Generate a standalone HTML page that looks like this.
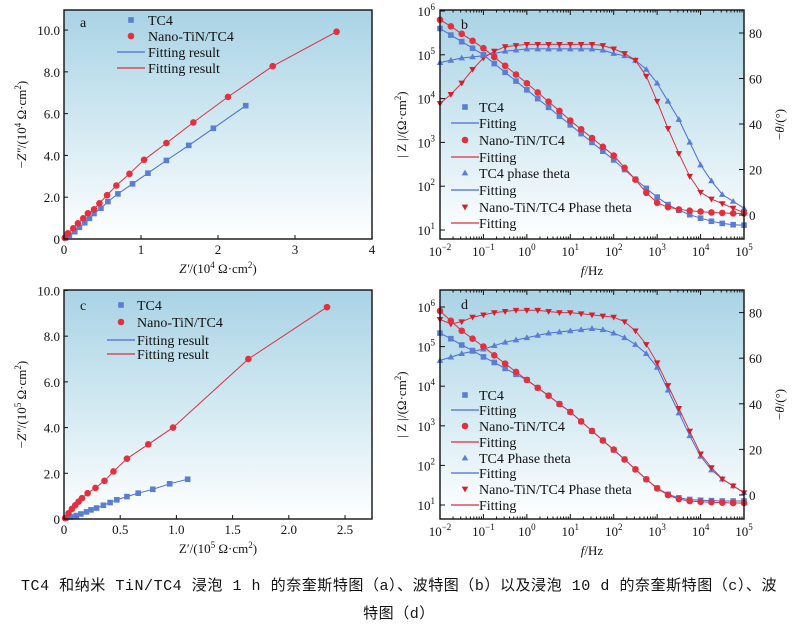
<!DOCTYPE html>
<html><head><meta charset="utf-8"><style>
body{margin:0;background:#fff;width:798px;height:631px;overflow:hidden}
svg{display:block;font-family:"Liberation Serif",serif}
.cap{position:absolute;left:0;width:798px;text-align:center;font:15px "Liberation Mono","Noto Sans CJK SC",monospace;letter-spacing:0.55px;color:#111}
</style></head><body>
<svg id="s" width="798" height="631">
<defs>
<linearGradient id="bg" x1="0" y1="0" x2="0" y2="1"><stop offset="0" stop-color="#a9d3e5"/><stop offset="0.55" stop-color="#d6ebf3"/><stop offset="1" stop-color="#ffffff"/></linearGradient>
</defs>
</svg>
<div class="cap" style="top:574px">TC4 和纳米 TiN/TC4 浸泡 1 h 的奈奎斯特图（a）、波特图（b）以及浸泡 10 d 的奈奎斯特图（c）、波</div>
<div class="cap" style="top:602px">特图（d）</div>
<script>
// ---- Panel a data (units 1e4 ohm cm2)
const aTC4x=[0.02,0.07,0.14,0.2,0.27,0.33,0.39,0.48,0.57,0.7,0.89,1.09,1.33,1.62,1.94,2.36];
const aTC4y=[0.05,0.18,0.35,0.56,0.78,0.99,1.22,1.47,1.79,2.16,2.64,3.15,3.76,4.48,5.3,6.38];
const aNanox=[0.01,0.05,0.12,0.18,0.25,0.31,0.39,0.46,0.56,0.68,0.85,1.04,1.33,1.68,2.13,2.71,3.54];
const aNanoy=[0.06,0.27,0.51,0.75,0.99,1.23,1.42,1.71,2.1,2.56,3.12,3.79,4.59,5.58,6.8,8.27,9.92];
// ---- Panel c data (units 1e5 ohm cm2)
const cTC4x=[0.015,0.06,0.11,0.15,0.2,0.24,0.29,0.35,0.41,0.47,0.56,0.66,0.79,0.94,1.10];
const cTC4y=[0.03,0.09,0.15,0.22,0.31,0.4,0.48,0.6,0.72,0.84,0.98,1.13,1.3,1.54,1.74];
const cNanox=[0.01,0.04,0.07,0.1,0.13,0.16,0.21,0.28,0.36,0.44,0.56,0.75,0.97,1.64,2.34];
const cNanoy=[0.04,0.25,0.44,0.6,0.76,0.91,1.13,1.36,1.67,2.08,2.64,3.27,4.0,7.0,9.27];
// ---- Bode frequency (log10 Hz)
const logF=[-2,-1.75,-1.5,-1.25,-1,-0.75,-0.5,-0.25,0,0.25,0.5,0.75,1,1.25,1.5,1.75,2,2.25,2.5,2.75,3,3.25,3.5,3.75,4,4.25,4.5,4.75,5];
const bTC4Z=[5.6,5.45,5.3,5.15,5.0,4.8,4.6,4.4,4.2,4.0,3.8,3.6,3.4,3.2,3.0,2.8,2.6,2.38,2.16,1.95,1.75,1.58,1.45,1.35,1.27,1.2,1.15,1.12,1.11];
const bNanoZ=[5.8,5.65,5.48,5.32,5.15,4.95,4.75,4.55,4.35,4.14,3.93,3.72,3.5,3.3,3.1,2.9,2.7,2.42,2.15,1.85,1.62,1.52,1.47,1.44,1.42,1.4,1.39,1.38,1.38];
const bTC4T=[67,68,69,69.5,70,71,72,72.5,73,73,73,73,73,73,73,72.5,71,70,68,64,58,50,42,32,22,15,9,6,3];
const bNanoT=[49,53,58,64,69,72,74,74.5,75,75,75,75,75,75,75,74.5,73,71,68,61,50,38,27,17,10,7,5,3,1];
const dTC4Z=[5.34,5.2,5.04,4.9,4.74,4.6,4.45,4.3,4.16,3.96,3.76,3.55,3.35,3.11,2.87,2.63,2.39,2.15,1.9,1.65,1.43,1.27,1.18,1.14,1.12,1.11,1.1,1.1,1.1];
const dNanoZ=[5.9,5.65,5.4,5.2,5.0,4.78,4.57,4.36,4.16,3.96,3.76,3.55,3.35,3.11,2.87,2.63,2.4,2.15,1.9,1.65,1.42,1.25,1.15,1.1,1.08,1.07,1.06,1.05,1.05];
const dTC4T=[59,60.5,62,63,64,65.5,67,68,69,70,71,71.5,72,72.5,73,72.5,71,69,66,62,56,46,36,26,17,11,7,4,1];
const dNanoT=[77,75,76,78,79,80,80.5,81,81,81,80.5,80,80,79.5,79,78.5,78,76,72,66,58,48,38,28,18,12,7,4,1];
const nyqXTicksA=["0","1","2","3","4"];
const nyqYTicks=["0","2.0","4.0","6.0","8.0","10.0"];
const nyqXTicksC=["0","0.5","1.0","1.5","2.0","2.5"];
const thetaTicks=["0","20","40","60","80"];

const S=document.getElementById('s');const NS='http://www.w3.org/2000/svg';
function mk(t,a,p){const e=document.createElementNS(NS,t);for(const k in a)e.setAttribute(k,a[k]);(p||S).appendChild(e);return e;}
function txt(x,y,s,opt,p){const e=mk('text',Object.assign({x:x,y:y,'font-size':13,fill:'#111'},opt||{}),p);e.innerHTML=s;return e;}
const BLUE='#5a7fd2',RED='#e2303e',BL='#4a6ad8',RL='#d83040';

function frame(x0,y0,x1,y1,name){
  const g=mk('g',{});
  const r=mk('rect',{x:x0,y:y0,width:x1-x0,height:y1-y0,fill:'url(#bg)'},g);
  return g;
}
function border(g,x0,y0,x1,y1){const r=mk('rect',{x:x0,y:y0,width:x1-x0,height:y1-y0,fill:'none',stroke:'#111','stroke-width':1.4},g);}
function marker(g,kind,x,y,col){
  let e;
  if(kind==='sq')e=mk('rect',{x:x-2.8,y:y-2.8,width:5.6,height:5.6,fill:col},g);
  else if(kind==='ci')e=mk('circle',{cx:x,cy:y,r:3.3,fill:col},g);
  else if(kind==='up')e=mk('path',{d:`M${x},${y-3.4}L${x+3.3},${y+2.4}L${x-3.3},${y+2.4}Z`,fill:col},g);
  else e=mk('path',{d:`M${x},${y+3.4}L${x+3.3},${y-2.4}L${x-3.3},${y-2.4}Z`,fill:col},g);
  return e;
}
function series(g,xs,ys,X,Y,kind,col,lcol,name){
  const d=xs.map((v,i)=>(i?'L':'M')+X(v).toFixed(1)+','+Y(ys[i]).toFixed(1)).join('');
  const l=mk('path',{d:d,fill:'none',stroke:lcol,'stroke-width':1},g);
  
  xs.forEach((v,i)=>{const m=marker(g,kind,X(v),Y(ys[i]),col);});
}
function legend(g,items,x,ys,tx){
  items.forEach((it,i)=>{
    if(it[0]==='line'){const l=mk('line',{x1:x-14,x2:x+14,y1:ys[i],y2:ys[i],stroke:it[2],'stroke-width':1.2},g);}
    else{const m=marker(g,it[0],x,ys[i],it[2]);}
    const t=txt(tx,ys[i]+5,it[1],{'font-size':14},g);
  });
}

function nyq(x0,y0,x1,y1,xmax,ymax,xt,xstep,name,letter,d1x,d1y,d2x,d2y,xlabel,ylabel,legY,legX,ltx,letPos){
  const g=frame(x0,y0,x1,y1,name);
  const X=v=>x0+(x1-x0)*v/xmax, Y=v=>y1-(y1-y0)*v/ymax;
  series(g,d1x,d1y,X,Y,'sq',BLUE,BL,'tc4');
  series(g,d2x,d2y,X,Y,'ci',RED,RL,'nano-tin');
  border(g,x0,y0,x1,y1);
  xt.forEach((s,i)=>{const v=i*xstep;mk('line',{x1:X(v),x2:X(v),y1:y1,y2:y1-4,stroke:'#111'},g);const t=txt(X(v),y1+15,s,{'text-anchor':'middle'},g);});
  nyqYTicks.forEach((s,i)=>{const v=i*2;mk('line',{x1:x0,x2:x0+4,y1:Y(v),y2:Y(v),stroke:'#111'},g);const t=txt(x0-4,Y(v)+5,s,{'text-anchor':'end'},g);});
  let t=txt((x0+x1)/2,y1+34,xlabel,{'text-anchor':'middle'},g);
  const cy=(y0+y1)/2;t=txt(26,cy,ylabel,{'text-anchor':'middle',transform:`rotate(-90 26 ${cy})`},g);
  t=txt(letPos[0],letPos[1],letter,{'font-size':14},g);
  legend(g,[['sq','TC4',BLUE],['ci','Nano-TiN/TC4',RED],['line','Fitting result',BL],['line','Fitting result',RL]],legX,legY,ltx);
}
nyq(64,10,372,239,4,10.96,nyqXTicksA,1,'panel-a-nyquist','a',aTC4x,aTC4y,aNanox,aNanoy,'<tspan font-style="italic">Z′</tspan>/(10<tspan font-size="9" dy="-5">4</tspan><tspan dy="5"> Ω·cm</tspan><tspan font-size="9" dy="-5">2</tspan><tspan dy="5">)</tspan>','−<tspan font-style="italic">Z″</tspan>/(10<tspan font-size="9" dy="-5">4</tspan><tspan dy="5"> Ω·cm</tspan><tspan font-size="9" dy="-5">2</tspan><tspan dy="5">)</tspan>',[20,36,52,68],131,148,[80,27]);
nyq(64,290,372,519,2.74,10.02,nyqXTicksC,0.5,'panel-c-nyquist','c',cTC4x,cTC4y,cNanox,cNanoy,'Z′/(10<tspan font-size="9" dy="-5">5</tspan><tspan dy="5"> Ω·cm</tspan><tspan font-size="9" dy="-5">2</tspan><tspan dy="5">)</tspan>','−<tspan font-style="italic">Z″</tspan>/(10<tspan font-size="9" dy="-5">5</tspan><tspan dy="5"> Ω·cm</tspan><tspan font-size="9" dy="-5">2</tspan><tspan dy="5">)</tspan>',[305,322,340,354],121,137,[80,310]);

function bode(x0,y0,x1,y1,z1y,dec,th0,pxd,name,letter,tZ,nZ,tT,nT,legY,ph){
  const g=frame(x0,y0,x1,y1,name);
  const X=v=>x0+(x1-x0)*(v+2)/7, YZ=v=>z1y-(v-1)*dec, YT=v=>th0-v*pxd;
  series(g,logF,tT,X,YT,'up',BLUE,BL,'tc4-phase');
  series(g,logF,nT,X,YT,'dn','#d4202e',RL,'nano-tin-phase');
  series(g,logF,tZ,X,YZ,'sq',BLUE,BL,'tc4-modulus');
  series(g,logF,nZ,X,YZ,'ci',RED,RL,'nano-tin-modulus');
  border(g,x0,y0,x1,y1);
  for(let k=-2;k<=5;k++){
    const x=X(k);mk('line',{x1:x,x2:x,y1:y1,y2:y1-5,stroke:'#111'},g);mk('line',{x1:x,x2:x,y1:y0,y2:y0+5,stroke:'#111'},g);
    if(k<5)for(let m=2;m<10;m++){const xm=X(k+Math.log10(m));mk('line',{x1:xm,x2:xm,y1:y1,y2:y1-2.5,stroke:'#111'},g);mk('line',{x1:xm,x2:xm,y1:y0,y2:y0+2.5,stroke:'#111'},g);}
    const t=txt(x,y1+17,'10<tspan font-size="9" dy="-6">'+(k<0?'−'+(-k):k)+'</tspan>',{'text-anchor':'middle'},g);
  }
  for(let k=1;k<=6;k++){const y=YZ(k);if(y<y0-2)continue;mk('line',{x1:x0,x2:x0+5,y1:y,y2:y,stroke:'#111'},g);
    const t=txt(x0-5,y+5,'10<tspan font-size="9" dy="-6">'+k+'</tspan>',{'text-anchor':'end'},g);}
  thetaTicks.forEach((s,i)=>{const y=YT(i*20);mk('line',{x1:x1,x2:x1-5,y1:y,y2:y,stroke:'#111'},g);const t=txt(x1+5,y+5,s,{},g);});
  let t=txt((x0+x1)/2,y1+36,'<tspan font-style="italic">f</tspan>/Hz',{'text-anchor':'middle'},g);
  const cy=(y0+y1)/2;
  t=txt(406,cy,'| Z |/(Ω·cm<tspan font-size="9" dy="-5">2</tspan><tspan dy="5">)</tspan>',{'text-anchor':'middle',transform:`rotate(-90 406 ${cy})`},g);
  t=txt(784,cy,'−<tspan font-style="italic">θ</tspan>/(°)',{'text-anchor':'middle',transform:`rotate(-90 784 ${cy})`},g);
  t=txt(x0+21,y0+19,letter,{'font-size':14},g);
  legend(g,[['sq','TC4',BLUE],['line','Fitting',BL],['ci','Nano-TiN/TC4',RED],['line','Fitting',RL],['up','TC4 '+ph+' theta',BLUE],['line','Fitting',BL],['dn','Nano-TiN/TC4 Phase theta','#d4202e'],['line','Fitting',RL]],465,legY,479);
}
bode(440,10,744,239,230,43.8,215,2.275,'panel-b-bode','b',bTC4Z,bNanoZ,bTC4T,bNanoT,[107,123,140,157,173,190,207,223],'phase');
bode(440,290,744,519,505,39.6,495,2.28,'panel-d-bode','d',dTC4Z,dNanoZ,dTC4T,dNanoT,[395,410,426,442,458,473,489,505],'Phase');
</script>
</body></html>
